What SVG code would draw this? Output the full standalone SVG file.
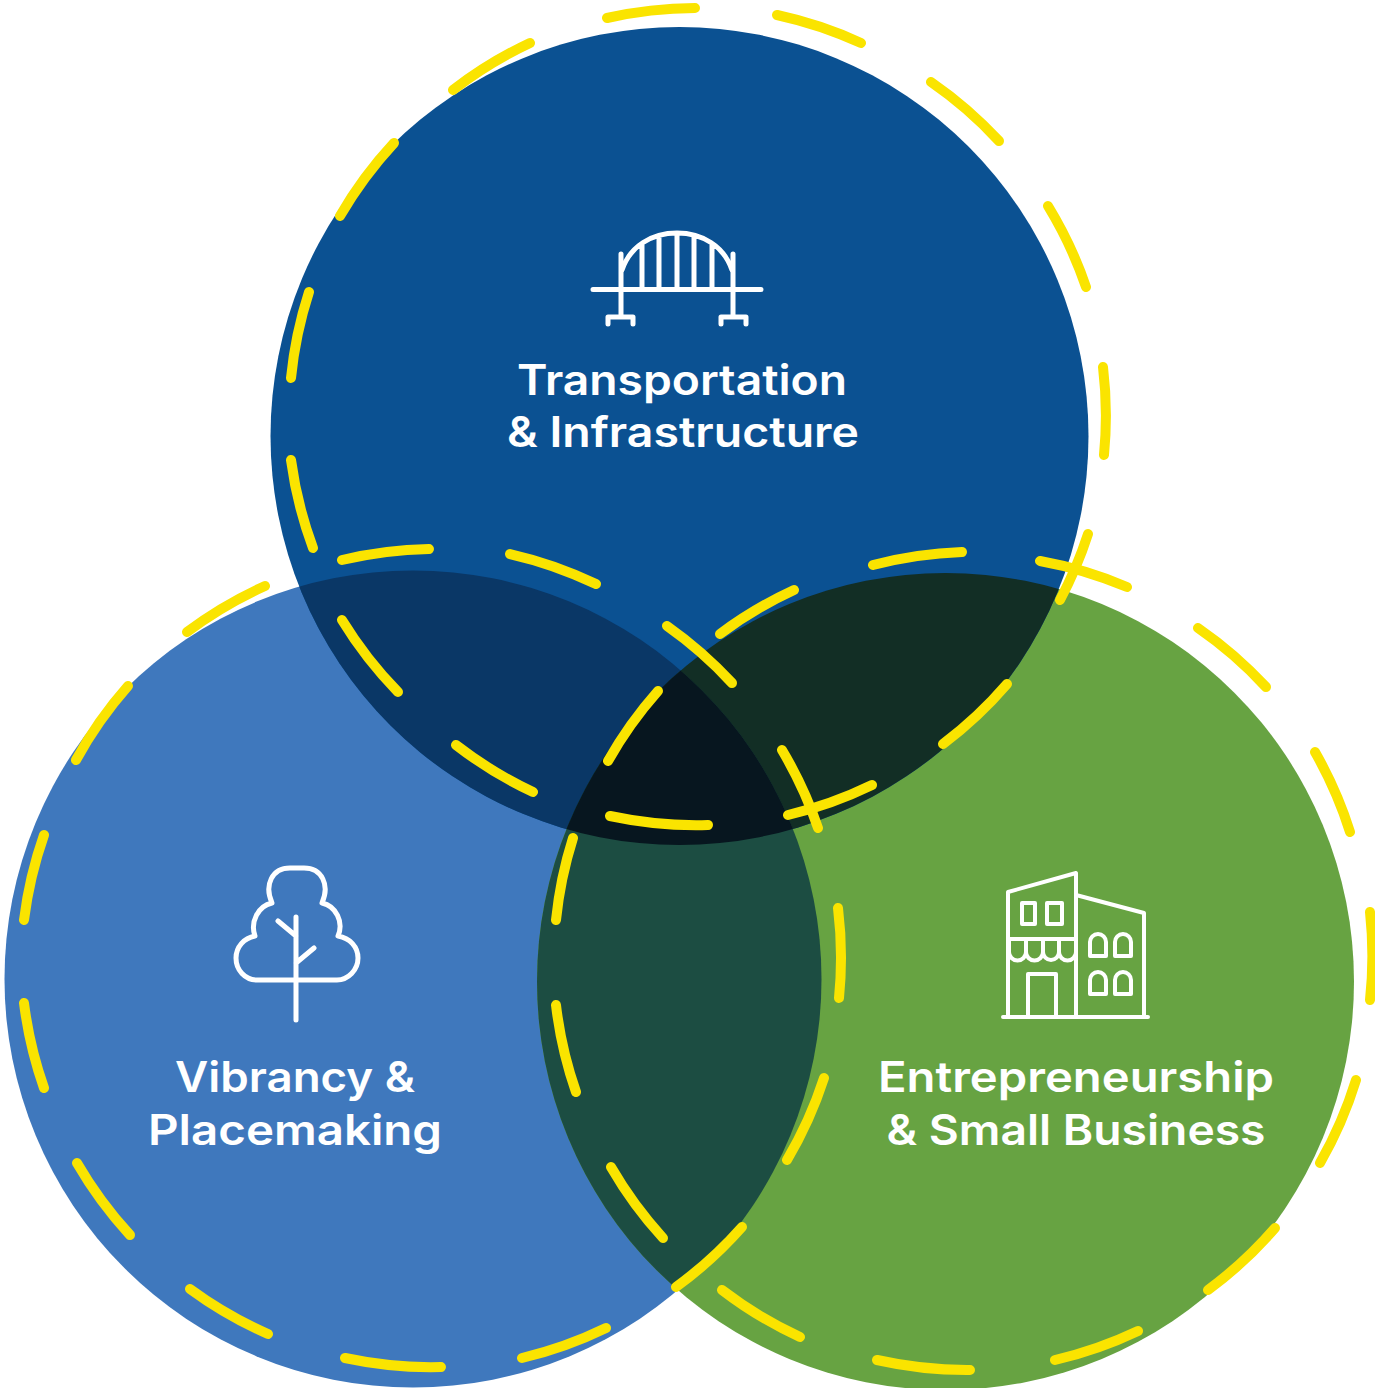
<svg xmlns="http://www.w3.org/2000/svg" width="1375" height="1388" viewBox="0 0 1375 1388">
<style>
.lbl{font-family:"Inter","Liberation Sans",sans-serif;font-weight:600;font-size:42px;fill:#fff;text-anchor:middle}
.ic{fill:none;stroke:#fff;stroke-linecap:round;stroke-linejoin:round}
.d{fill:none;stroke:#fae400;stroke-width:10;stroke-linecap:round}
</style>
<defs>
<clipPath id="cT"><circle cx="679.5" cy="436" r="409"/></clipPath>
<clipPath id="cL"><circle cx="413" cy="979" r="408.5"/></clipPath>
<clipPath id="cR"><circle cx="945.5" cy="981.5" r="408.5"/></clipPath>
</defs>
<rect width="1375" height="1388" fill="#fff"/>
<g id="circles">
<circle id="circle-left" cx="413" cy="979" r="408.5" fill="#3f78bd"/>
<circle id="circle-right" cx="945.5" cy="981.5" r="408.5" fill="#67a342"/>
<circle id="circle-top" cx="679.5" cy="436" r="409" fill="#0b5192"/>
<g clip-path="url(#cT)"><circle cx="413" cy="979" r="408.5" fill="#0a3766"/><circle cx="945.5" cy="981.5" r="408.5" fill="#122e25"/></g>
<g clip-path="url(#cL)"><circle cx="945.5" cy="981.5" r="408.5" fill="#1c4d42"/></g>
<g clip-path="url(#cT)"><g clip-path="url(#cL)"><circle cx="945.5" cy="981.5" r="408.5" fill="#07161f"/></g></g>
</g>
<g id="connectors">
<g id="dash-top">
<path class="d" d="M607 18A409 409 0 0 1 695 8M777 15A409 409 0 0 1 861 43M931 82A409 409 0 0 1 999 141M1048 206A409 409 0 0 1 1086 287M1103 367A409 409 0 0 1 1104 455M1088 534A409 409 0 0 1 1060 600M1007 684A409 409 0 0 1 943 744M872 785A409 409 0 0 1 788 815M708 825A409 409 0 0 1 610 816M533 792A409 409 0 0 1 456 745M398 692A409 409 0 0 1 342 620M313 548A409 409 0 0 1 291 460M291 378A409 409 0 0 1 309 292M340 216A409 409 0 0 1 394 143M453 90A409 409 0 0 1 530 43"/>
</g>
<g id="dash-left">
<path class="d" d="M510 554A409 409 0 0 1 596 584M667 626A409 409 0 0 1 732 683M782 750A409 409 0 0 1 818 828M838 908A409 409 0 0 1 839 998M824 1078A409 409 0 0 1 787 1160M742 1227A409 409 0 0 1 676 1287M606 1328A409 409 0 0 1 522 1358M441 1367A409 409 0 0 1 345 1358M268 1334A409 409 0 0 1 190 1289M130 1235A409 409 0 0 1 77 1163M44 1088A409 409 0 0 1 24 1003M24 920A409 409 0 0 1 44 835M76 760A409 409 0 0 1 128 686M187 632A409 409 0 0 1 265 586M342 560A409 409 0 0 1 429 549"/>
</g>
<g id="dash-right">
<path class="d" d="M873 565A409 409 0 0 1 962 552M1040 561A409 409 0 0 1 1127 587M1198 628A409 409 0 0 1 1266 687M1315 752A409 409 0 0 1 1350 832M1370 912A409 409 0 0 1 1370 1000M1356 1080A409 409 0 0 1 1320 1163M1275 1228A409 409 0 0 1 1208 1290M1138 1331A409 409 0 0 1 1055 1360M970 1370A409 409 0 0 1 877 1360M800 1337A409 409 0 0 1 722 1290M663 1238A409 409 0 0 1 611 1167M576 1092A409 409 0 0 1 556 1005M556 920A409 409 0 0 1 573 838M608 761A409 409 0 0 1 658 691M720 634A409 409 0 0 1 794 590"/>
</g>
</g>
<g id="node-transportation">
<g class="ic" stroke-width="5">
<path d="M593 289.5H761M621 254V316M733 254V316M608 324V317H633V324M721 324V317H746V324"/>
<path d="M622 270C630 246 652 233 677 233C702 233 724 246 732 270M642 245V289M659 236V289M677 233V289M694 236V289M712 245V289"/>
</g>
<text class="lbl" x="682" y="395" textLength="330" lengthAdjust="spacingAndGlyphs">Transportation</text>
<text class="lbl" x="683" y="447" textLength="352" lengthAdjust="spacingAndGlyphs">&amp; Infrastructure</text>
</g>
<g id="node-vibrancy">
<g class="ic" stroke-width="5">
<path d="M257 980C245 980 236 970 236 958C236 947 244 938 255 936C250 922 258 906 272 903C264 885 272 868 290 868H304C322 868 330 885 322 903C336 906 344 922 338 936C350 938 358 947 358 958C358 970 348 980 337 980Z"/>
<path d="M296 917V1020M278 921L296 936M314 948L296 963"/>
</g>
<text class="lbl" x="295" y="1092" textLength="240" lengthAdjust="spacingAndGlyphs">Vibrancy &amp;</text>
<text class="lbl" x="295" y="1145" textLength="294" lengthAdjust="spacingAndGlyphs">Placemaking</text>
</g>
<g id="node-entrepreneurship">
<g class="ic" stroke-width="4">
<path d="M1003 1017H1148M1008 1017V892L1076 873V1017M1076 895L1144 913V1017"/>
<path d="M1022 903H1035V924H1022ZM1047 903H1062V924H1047Z"/>
<path d="M1008 939H1076M1009 939V952A8.5 8.5 0 0 0 1026 952A8.5 8.5 0 0 0 1043 952A8 8 0 0 0 1059 952A8.5 8.5 0 0 0 1076 952M1026 939V952M1043 939V952M1059 939V952M1076 939V952"/>
<path d="M1028 1017V974H1056V1017"/>
<path d="M1090 956V942A8 8 0 0 1 1106 942V956ZM1115 956V942A8 8 0 0 1 1131 942V956ZM1090 994V980A8 8 0 0 1 1106 980V994ZM1115 994V980A8 8 0 0 1 1131 980V994Z"/>
</g>
<text class="lbl" x="1076" y="1092" textLength="396" lengthAdjust="spacingAndGlyphs">Entrepreneurship</text>
<text class="lbl" x="1076" y="1145" textLength="379" lengthAdjust="spacingAndGlyphs">&amp; Small Business</text>
</g>
</svg>
